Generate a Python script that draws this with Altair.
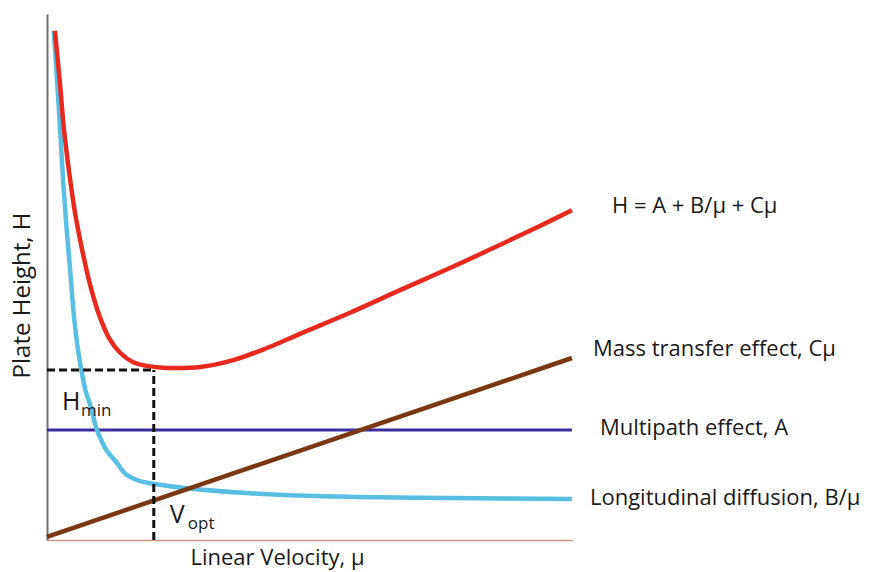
import altair as alt
import pandas as pd

# Van Deemter plot: plate height H against linear velocity u (arbitrary units)
# Total plate height  H = A + B/u + Cu
total_u = [0.15, 0.24, 0.32, 0.42, 0.53, 0.67, 0.82, 0.99, 1.18, 1.39, 1.64, 1.90,
           2.15, 2.38, 2.91, 3.54, 4.18, 4.81, 5.76, 6.71, 7.66, 8.61, 9.37, 9.98]
total_h = [9.68, 8.75, 7.83, 7.00, 6.24, 5.51, 4.85, 4.28, 3.84, 3.56, 3.38, 3.31,
           3.28, 3.27, 3.29, 3.42, 3.65, 3.92, 4.32, 4.75, 5.17, 5.61, 5.97, 6.27]

# Longitudinal diffusion term B/u
diffusion_u = [0.13, 0.19, 0.25, 0.30, 0.36, 0.44, 0.51, 0.59, 0.67, 0.74, 0.82, 0.95,
               1.05, 1.14, 1.25, 1.35, 1.41, 1.50, 1.62, 1.77, 1.96, 2.62, 3.86, 5.76,
               7.66, 9.98]
diffusion_h = [9.68, 8.75, 7.79, 6.94, 6.08, 5.13, 4.28, 3.61, 3.14, 2.81, 2.57, 2.09,
               1.86, 1.69, 1.56, 1.44, 1.35, 1.25, 1.18, 1.12, 1.08, 0.99, 0.89, 0.82,
               0.80, 0.78]

# Mass transfer term Cu and multipath term A
mass_u = [0.0, 9.98]
mass_h = [0.06, 3.46]
multipath_u = [0.0, 9.98]
multipath_h = [2.09, 2.09]

# Optimum velocity and minimum plate height
v_opt = 2.03
h_min = 3.23

FONT = "Open Sans"
TEXT = "#1a1a1a"

x_scale = alt.Scale(domain=[0, 10], nice=False, zero=False)
y_scale = alt.Scale(domain=[0, 10], nice=False, zero=False)

x_axis = alt.Axis(
    title="Linear Velocity, μ", ticks=False, labels=False, grid=False,
    domainColor="#c49c88", domainWidth=1.5,
    titleFont=FONT, titleFontSize=22, titleFontWeight="normal", titleColor=TEXT,
    titleX=230, titleY=24, titleAlign="center", titleBaseline="alphabetic",
)
y_axis = alt.Axis(
    title="Plate Height, H", ticks=False, labels=False, grid=False,
    domainColor="#707070", domainWidth=2,
    titleFont=FONT, titleFontSize=24, titleFontWeight="normal", titleColor=TEXT,
    titleX=-18, titleY=281, titleAngle=270, titleAlign="center",
    titleBaseline="alphabetic",
)


def X(field="u"):
    return alt.X(f"{field}:Q", scale=x_scale, axis=x_axis, title="Linear Velocity, μ")


def Y(field="h"):
    return alt.Y(f"{field}:Q", scale=y_scale, axis=y_axis, title="Plate Height, H")


def curve(us, hs, color, width, interp="linear"):
    df = pd.DataFrame({"u": us, "h": hs})
    return alt.Chart(df).mark_line(
        color=color, strokeWidth=width, interpolate=interp, strokeCap="butt"
    ).encode(x=X(), y=Y())


diffusion = curve(diffusion_u, diffusion_h, "#58bfe3", 4.5, "catmull-rom")
mass = curve(mass_u, mass_h, "#7a3812", 4.5)
multipath = curve(multipath_u, multipath_h, "#3a2c9e", 3)
total = curve(total_u, total_h, "#e8291e", 4.5, "catmull-rom")

# Dashed guides from the minimum of the curve to both axes
guides_df = pd.DataFrame({
    "u": [0.0, v_opt], "u2": [v_opt, v_opt],
    "h": [h_min, 0.0], "h2": [h_min, h_min],
})
guides = alt.Chart(guides_df).mark_rule(
    color="#111111", strokeWidth=3, strokeDash=[8, 4]
).encode(x=X("u"), x2="u2:Q", y=Y("h"), y2="h2:Q")

# Labels at the right-hand end of each line
end_labels = [
    ("H = A + B/μ + Cμ", total_u[-1], total_h[-1], 40, 3),
    ("Mass transfer effect, Cμ", mass_u[-1], mass_h[-1], 21, -2),
    ("Multipath effect, A", multipath_u[-1], multipath_h[-1], 28, 5),
    ("Longitudinal diffusion, B/μ", diffusion_u[-1], diffusion_h[-1], 18, 6),
]
label_layers = []
for text, u, h, dx, dy in end_labels:
    df = pd.DataFrame({"u": [u], "h": [h], "label": [text]})
    label_layers.append(
        alt.Chart(df).mark_text(
            align="left", baseline="alphabetic", dx=dx, dy=dy,
            font=FONT, fontSize=22, color=TEXT,
        ).encode(x=X(), y=Y(), text="label:N")
    )


def annotation(text, u, h, dx, dy, size):
    df = pd.DataFrame({"u": [u], "h": [h], "label": [text]})
    return alt.Chart(df).mark_text(
        align="left", baseline="alphabetic", dx=dx, dy=dy,
        font=FONT, fontSize=size, color=TEXT,
    ).encode(x=X(), y=Y(), text="label:N")


# H_min beside the horizontal guide, V_opt beside the vertical one
hmin_main = annotation("H", 0.0, h_min, 15, 40, 25)
hmin_sub = annotation("min", 0.0, h_min, 34, 46, 17)
vopt_main = annotation("V", v_opt, 0.0, 16, -17, 25)
vopt_sub = annotation("opt", v_opt, 0.0, 34, -11, 17)

chart = alt.layer(
    multipath, diffusion, mass, total, guides,
    hmin_main, hmin_sub, vopt_main, vopt_sub, *label_layers,
).properties(
    width=526, height=526,
    autosize=alt.AutoSizeParams(type="none"),
    padding={"left": 47, "top": 14, "right": 296, "bottom": 32},
    background="white",
).configure_view(strokeWidth=0)

chart.save("out.html", embed_options={"renderer": "svg", "actions": False})
